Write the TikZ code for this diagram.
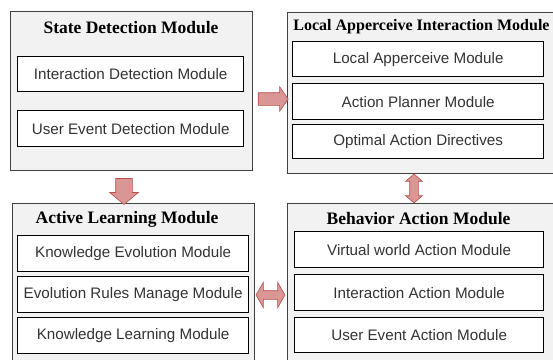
\documentclass[tikz,border=0pt]{standalone}
\usepackage{fontspec}
\setmainfont{Liberation Serif}
\newfontfamily\innerfont{Liberation Sans}
\usetikzlibrary{shapes.arrows}
\definecolor{outerfill}{HTML}{F2F2F2}
\definecolor{outerline}{HTML}{404040}
\definecolor{innertext}{HTML}{333333}
\definecolor{arrowfill}{HTML}{D99694}
\definecolor{arrowline}{HTML}{B5504D}
\tikzset{
  outerbox/.style={draw=outerline, line width=1.3pt, fill=outerfill, anchor=north west, inner sep=0pt},
  innerbox/.style={draw=black, line width=1.3pt, fill=white, anchor=north west, inner sep=0pt,
    font=\innerfont\fontsize{15.2}{18}\selectfont, text=innertext},
  titletext/.style={font=\bfseries\fontsize{17.5}{20}\selectfont, inner sep=0pt},
  sarrow/.style={single arrow, draw=arrowline, line width=0.6pt, fill=arrowfill, inner sep=0pt, single arrow head indent=0pt},
  darrow/.style={double arrow, draw=arrowline, line width=0.6pt, fill=arrowfill, inner sep=0pt, double arrow head indent=0pt},
}
\begin{document}
\begin{tikzpicture}[x=1pt,y=-1pt]
\useasboundingbox (0,0) rectangle (553,359);
\clip (0,0) rectangle (553,359);
% State Detection Module
\node[outerbox, minimum width=242pt, minimum height=159pt] (sd) at (10,11) {};
\node[titletext] (sdt) at (131,28) {State Detection Module};
\node[innerbox, minimum width=226pt, minimum height=35pt] (sd1) at (17,56) {Interaction Detection Module};
\node[innerbox, minimum width=226pt, minimum height=36pt] (sd2) at (17,110) {User Event Detection Module};
% Local Apperceive Interaction Module
\node[outerbox, minimum width=266pt, minimum height=161pt] (la) at (287,12) {};
\node[titletext, font=\bfseries\fontsize{16}{19}\selectfont] (lat) at (421.5,27) {Local Apperceive Interaction Module};
\node[innerbox, minimum width=251pt, minimum height=35pt] (la1) at (292,41) {Local Apperceive Module};
\node[innerbox, minimum width=251pt, minimum height=36pt] (la2) at (292,83) {Action Planner Module};
\node[innerbox, minimum width=251pt, minimum height=34pt] (la3) at (292,124) {Optimal Action Directives};
% Active Learning Module
\node[outerbox, minimum width=242pt, minimum height=165pt] (al) at (12,203) {};
\node[titletext] (alt) at (127,219) {Active Learning Module};
\node[innerbox, minimum width=231pt, minimum height=36pt] (al1) at (17,235) {Knowledge Evolution Module};
\node[innerbox, minimum width=231pt, minimum height=36pt] (al2) at (17,276) {Evolution Rules Manage Module};
\node[innerbox, minimum width=231pt, minimum height=36pt] (al3) at (17,317) {Knowledge Learning Module};
% Behavior Action Module
\node[outerbox, minimum width=266pt, minimum height=165pt] (ba) at (287,203) {};
\node[titletext] (bat) at (418.5,219) {Behavior Action Module};
\node[innerbox, minimum width=249pt, minimum height=36pt] (ba1) at (294,231) {Virtual world Action Module};
\node[innerbox, minimum width=249pt, minimum height=36pt] (ba2) at (294,274) {Interaction Action Module};
\node[innerbox, minimum width=249pt, minimum height=35pt] (ba3) at (294,317) {User Event Action Module};
% block arrows
\node[sarrow, minimum height=30pt, minimum width=24pt, single arrow head extend=6pt, single arrow tip angle=110] (a1) at (271,99) {\rule{0pt}{12pt}};
\node[sarrow, rotate=-90, minimum height=26pt, minimum width=28pt, single arrow head extend=6pt, single arrow tip angle=100] (a2) at (124,188) {\rule{0pt}{16pt}};
\node[darrow, rotate=90, minimum height=29pt, minimum width=16pt, double arrow head extend=4pt, double arrow tip angle=98] (a3) at (414,188.5) {\rule{0pt}{8pt}};
\node[darrow, minimum height=29pt, minimum width=25pt, double arrow head extend=8.5pt, double arrow tip angle=120] (a4) at (270.5,295) {\rule{0pt}{8pt}};
\end{tikzpicture}
\end{document}
